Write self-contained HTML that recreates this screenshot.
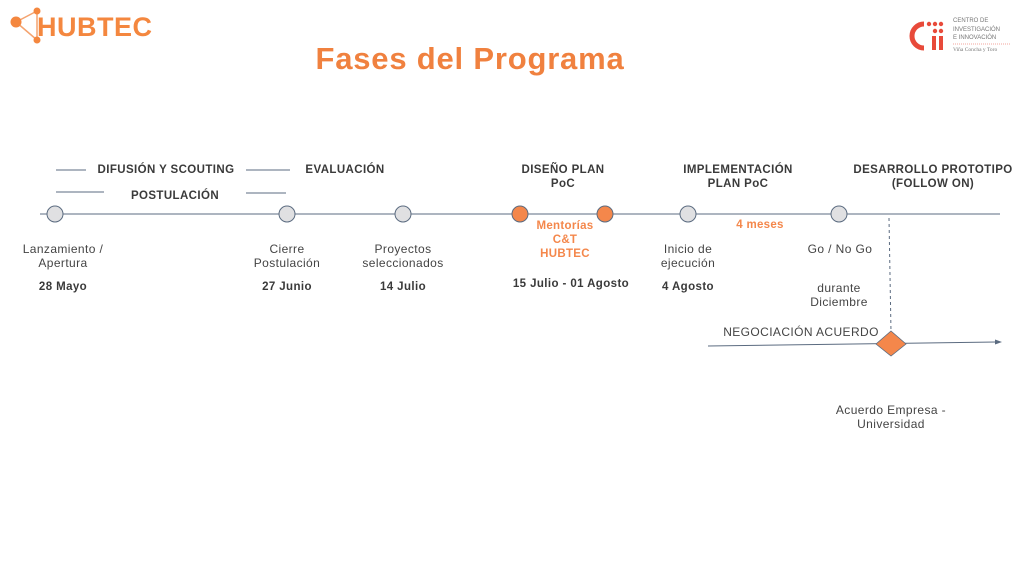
<!DOCTYPE html>
<html><head><meta charset="utf-8"><style>
body{margin:0;background:#fff;}
svg{display:block;font-family:"Liberation Sans",sans-serif;}
.t{font-size:12px;fill:#444;text-anchor:middle;letter-spacing:0.4px;}
.b{font-size:11.5px;fill:#3a3a3a;font-weight:bold;text-anchor:middle;letter-spacing:0.4px;}
.o{font-size:11.5px;fill:#f4874b;font-weight:bold;text-anchor:middle;letter-spacing:0.3px;}
</style></head><body>
<svg width="1024" height="576" viewBox="0 0 1024 576">
<g stroke="#f4a36f" stroke-width="1.5" fill="none"><line x1="16" y1="22" x2="37" y2="11"/><line x1="16" y1="22" x2="37" y2="40"/><line x1="37" y1="11" x2="37" y2="40"/></g>
<circle cx="16" cy="22" r="5.5" fill="#f4873f"/><circle cx="37" cy="11" r="3.5" fill="#f4873f"/><circle cx="37" cy="40" r="3.5" fill="#f4873f"/>
<text x="37" y="36" font-size="27" font-weight="bold" fill="#f4873f" letter-spacing="0.5">HUBTEC</text>
<path d="M924 24 A12 12 0 1 0 924 48" stroke="#e84a3a" stroke-width="5" fill="none"/>
<g fill="#e84a3a"><circle cx="929" cy="24" r="2.2"/><circle cx="935" cy="24" r="2.2"/><circle cx="941" cy="24" r="2.2"/><circle cx="935" cy="31" r="2.2"/><circle cx="941" cy="31" r="2.2"/><rect x="932" y="36" width="4" height="14"/><rect x="939" y="36" width="4" height="14"/></g>
<g font-size="6" fill="#777"><text x="953" y="22">CENTRO DE</text><text x="953" y="31">INVESTIGACIÓN</text><text x="953" y="39">E INNOVACIÓN</text><text x="953" y="51" font-family="Liberation Serif" font-size="5.5">Viña Concha y Toro</text></g>
<line x1="953" y1="44" x2="1010" y2="44" stroke="#e84a3a" stroke-width="0.6" stroke-dasharray="1,1"/>
<text x="470" y="69" font-size="31" font-weight="bold" fill="#f0813f" text-anchor="middle" letter-spacing="0.8">Fases del Programa</text>
<g stroke="#5b6b80" stroke-width="1"><line x1="56" y1="170" x2="86" y2="170"/><line x1="246" y1="170" x2="290" y2="170"/><line x1="56" y1="192" x2="104" y2="192"/><line x1="246" y1="193" x2="286" y2="193"/></g>
<text class="b" x="166" y="173">DIFUSIÓN Y SCOUTING</text>
<text class="b" x="345" y="173">EVALUACIÓN</text>
<text class="b" x="175" y="199">POSTULACIÓN</text>
<text class="b" x="563" y="173">DISEÑO PLAN</text><text class="b" x="563" y="187">PoC</text>
<text class="b" x="738" y="173">IMPLEMENTACIÓN</text><text class="b" x="738" y="187">PLAN PoC</text>
<text class="b" x="933" y="173">DESARROLLO PROTOTIPO</text><text class="b" x="933" y="187">(FOLLOW ON)</text>
<line x1="40" y1="214" x2="1000" y2="214" stroke="#5b6b80" stroke-width="1"/>
<g stroke="#5b6b80" stroke-width="1" fill="#e0e0e2"><circle cx="55" cy="214" r="8"/><circle cx="287" cy="214" r="8"/><circle cx="403" cy="214" r="8"/><circle cx="688" cy="214" r="8"/><circle cx="839" cy="214" r="8"/></g>
<g stroke="#5b6b80" stroke-width="1" fill="#f4874b"><circle cx="520" cy="214" r="8"/><circle cx="605" cy="214" r="8"/></g>
<text class="o" x="565" y="229">Mentorías</text><text class="o" x="565" y="243">C&amp;T</text><text class="o" x="565" y="257">HUBTEC</text>
<text class="o" x="760" y="228">4 meses</text>
<text class="t" x="63" y="253">Lanzamiento /</text><text class="t" x="63" y="267">Apertura</text><text class="b" x="63" y="290">28 Mayo</text>
<text class="t" x="287" y="253">Cierre</text><text class="t" x="287" y="267">Postulación</text><text class="b" x="287" y="290">27 Junio</text>
<text class="t" x="403" y="253">Proyectos</text><text class="t" x="403" y="267">seleccionados</text><text class="b" x="403" y="290">14 Julio</text>
<text class="b" x="571" y="287">15 Julio - 01 Agosto</text>
<text class="t" x="688" y="253">Inicio de</text><text class="t" x="688" y="267">ejecución</text><text class="b" x="688" y="290">4 Agosto</text>
<text class="t" x="840" y="253">Go / No Go</text>
<text class="t" x="839" y="292">durante</text><text class="t" x="839" y="306">Diciembre</text>
<line x1="889" y1="218" x2="891" y2="332" stroke="#5b6b80" stroke-width="1" stroke-dasharray="3,3"/>
<text class="t" x="801" y="336">NEGOCIACIÓN ACUERDO</text>
<line x1="708" y1="346" x2="996" y2="342" stroke="#5b6b80" stroke-width="1"/>
<polygon points="1002,342 995,339.5 995,344.5" fill="#5b6b80"/>
<polygon points="891,331 906,344 891,356 876,344" fill="#f4874b" stroke="#5b6b80" stroke-width="0.8"/>
<text class="t" x="891" y="414">Acuerdo Empresa -</text><text class="t" x="891" y="428">Universidad</text>
</svg>
</body></html>
